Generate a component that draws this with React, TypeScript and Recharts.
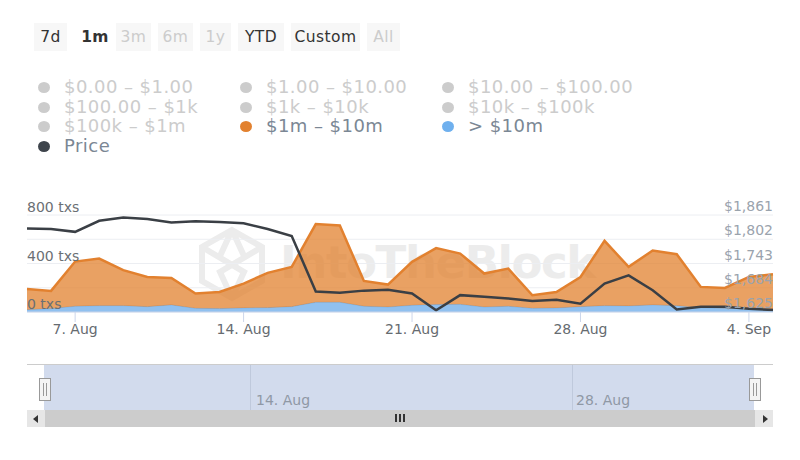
import { ComposedChart, Area, Line, XAxis, YAxis, CartesianGrid } from "recharts";

const FONT = "'DejaVu Sans', sans-serif";
const GRID = "#eceef2";
const AXIS = "#ccd6eb";
const ORANGE = "#E2812F";
const BLUE = "#7CB5EC";
const PRICE = "#3A3F45";

const dates = [
  "5. Aug", "6. Aug", "7. Aug", "8. Aug", "9. Aug", "10. Aug", "11. Aug", "12. Aug",
  "13. Aug", "14. Aug", "15. Aug", "16. Aug", "17. Aug", "18. Aug", "19. Aug", "20. Aug",
  "21. Aug", "22. Aug", "23. Aug", "24. Aug", "25. Aug", "26. Aug", "27. Aug", "28. Aug",
  "29. Aug", "30. Aug", "31. Aug", "1. Sep", "2. Sep", "3. Sep", "4. Sep", "5. Sep",
];
const over10m = [19, 28, 47, 52, 52, 44, 58, 30, 28, 33, 36, 44, 80, 80, 47, 41, 55, 61, 63, 41, 47, 30, 33, 44, 52, 50, 58, 52, 36, 30, 30, 25];
const oneTo10m = [171, 146, 369, 389, 293, 245, 223, 122, 137, 201, 287, 328, 645, 634, 209, 185, 359, 466, 419, 276, 311, 108, 132, 245, 535, 322, 449, 425, 171, 168, 259, 287];
const price = [1828, 1827, 1820, 1847, 1855, 1851, 1843, 1846, 1844, 1841, 1827, 1810, 1675, 1672, 1677, 1679, 1670, 1629, 1666, 1662, 1658, 1652, 1655, 1645, 1694, 1714, 1678, 1631, 1638, 1638, 1633, 1630];

const xTicks = ["7. Aug", "14. Aug", "21. Aug", "28. Aug", "4. Sep"];
const txTicks = [0, 200, 400, 600, 800];
const txLabelled = [0, 400, 800];
const priceTicks = [1625, 1684, 1743, 1802, 1861];

const ranges = [
  { label: "7d", left: 34, width: 33, state: "on" },
  { label: "1m", left: 75, width: 40, state: "selected" },
  { label: "3m", left: 116, width: 35, state: "off" },
  { label: "6m", left: 158, width: 35, state: "off" },
  { label: "1y", left: 200, width: 31, state: "off" },
  { label: "YTD", left: 238, width: 46, state: "on" },
  { label: "Custom", left: 291, width: 69, state: "on" },
  { label: "All", left: 367, width: 33, state: "off" },
];

const legendItems = [
  { label: "$0.00 – $1.00", col: 0, row: 0, dot: "#cccccc", active: false },
  { label: "$1.00 – $10.00", col: 1, row: 0, dot: "#cccccc", active: false },
  { label: "$10.00 – $100.00", col: 2, row: 0, dot: "#cccccc", active: false },
  { label: "$100.00 – $1k", col: 0, row: 1, dot: "#cccccc", active: false },
  { label: "$1k – $10k", col: 1, row: 1, dot: "#cccccc", active: false },
  { label: "$10k – $100k", col: 2, row: 1, dot: "#cccccc", active: false },
  { label: "$100k – $1m", col: 0, row: 2, dot: "#cccccc", active: false },
  { label: "$1m – $10m", col: 1, row: 2, dot: ORANGE, active: true },
  { label: "> $10m", col: 2, row: 2, dot: "#6FB0EE", active: true },
  { label: "Price", col: 0, row: 3, dot: "#3E444C", active: true },
];

const rows = dates.map((date, i) => ({
  date,
  over10m: over10m[i],
  oneTo10m: oneTo10m[i],
  price: price[i],
}));

function TxTick({ x, y, payload }: any) {
  if (!txLabelled.includes(payload.value)) return <g />;
  return (
    <text x={x} y={y - 3} textAnchor="start" fontSize={14} fontFamily={FONT} fill="#6b6f74">
      {payload.value} txs
    </text>
  );
}

function PriceTick({ x, y, payload }: any) {
  return (
    <text x={x} y={y - 4} textAnchor="end" fontSize={14} fontFamily={FONT} fill="#9aa3ad">
      ${payload.value.toLocaleString("en-US")}
    </text>
  );
}

function RangeButtons() {
  return (
    <>
      {ranges.map((r) => (
        <div
          key={r.label}
          style={{
            position: "absolute", left: r.left, top: 23, width: r.width, height: 28, lineHeight: "29px",
            textAlign: "center", fontSize: 15.5, letterSpacing: 0.4,
            background: r.state === "selected" ? "#fff" : "#f7f7f7",
            color: r.state === "off" ? "#cccccc" : "#333333",
            fontWeight: r.state === "selected" ? 700 : 400,
          }}
        >
          {r.label}
        </div>
      ))}
    </>
  );
}

function RangeLegend() {
  return (
    <>
      {legendItems.map((item) => (
        <div key={item.label}>
          <div
            style={{
              position: "absolute", left: 38 + item.col * 202, top: 82 + item.row * 19.5,
              width: 12, height: 11, borderRadius: "50%", background: item.dot,
            }}
          />
          <div
            style={{
              position: "absolute", left: 64 + item.col * 202, top: 76 + item.row * 19.5,
              fontSize: 18, lineHeight: "22px", whiteSpace: "nowrap", letterSpacing: 0.45,
              color: item.active ? "#7b8794" : "#cccccc",
            }}
          >
            {item.label}
          </div>
        </div>
      ))}
    </>
  );
}

function Watermark() {
  return (
    <>
      <svg style={{ position: "absolute", left: 198, top: 226 }} width={68} height={76} fill="none" stroke="#ececec" strokeWidth={6}>
        <path d="M34 4 L64 21 L64 55 L34 72 L4 55 L4 21 Z M4 21 L46 46 L34 72 M64 21 L22 46 L34 72 M34 4 L46 30 M34 4 L22 30" />
      </svg>
      <div
        style={{
          position: "absolute", left: 280, top: 235, fontSize: 45, lineHeight: "56px",
          fontWeight: 700, color: "#ececec", whiteSpace: "nowrap", letterSpacing: -1.4,
        }}
      >
        IntoTheBlock
      </div>
    </>
  );
}

function Handle({ left }: { left: number }) {
  return (
    <div
      style={{
        position: "absolute", left, top: 378, width: 10, height: 21, background: "#f4f4f4",
        border: "1px solid #999999",
      }}
    >
      <div style={{ position: "absolute", left: 3, top: 4, width: 1, height: 13, background: "#999999" }} />
      <div style={{ position: "absolute", left: 6, top: 4, width: 1, height: 13, background: "#999999" }} />
    </div>
  );
}

function Navigator() {
  const label = { position: "absolute", top: 391, fontSize: 14, lineHeight: "18px", color: "#8f98a5" } as const;
  return (
    <>
      <div style={{ position: "absolute", left: 27, top: 364, width: 746, height: 1, background: "#cccccc" }} />
      <div style={{ position: "absolute", left: 44, top: 365, width: 710, height: 45, background: "#D2DBED" }} />
      <div style={{ position: "absolute", left: 250, top: 365, width: 1, height: 45, background: "#BFC9DC" }} />
      <div style={{ position: "absolute", left: 572, top: 365, width: 1, height: 45, background: "#BFC9DC" }} />
      <div style={{ ...label, left: 256 }}>14. Aug</div>
      <div style={{ ...label, left: 576 }}>28. Aug</div>
      <Handle left={39} />
      <Handle left={749} />
      <div style={{ position: "absolute", left: 27, top: 410, width: 746, height: 17, background: "#cccccc" }} />
      <div style={{ position: "absolute", left: 27, top: 410, width: 18, height: 17, background: "#e6e6e6" }} />
      <div style={{ position: "absolute", left: 755, top: 410, width: 18, height: 17, background: "#e6e6e6" }} />
      <div style={{ position: "absolute", left: 33, top: 415, width: 0, height: 0, borderTop: "4px solid transparent", borderBottom: "4px solid transparent", borderRight: "5px solid #333" }} />
      <div style={{ position: "absolute", left: 763, top: 415, width: 0, height: 0, borderTop: "4px solid transparent", borderBottom: "4px solid transparent", borderLeft: "5px solid #333" }} />
      {[395, 399, 403].map((left) => (
        <div key={left} style={{ position: "absolute", left, top: 414, width: 1.5, height: 8, background: "#333" }} />
      ))}
    </>
  );
}

export default function App() {
  return (
    <div style={{ position: "absolute", left: 0, top: 0, width: 800, height: 460, background: "#fff", fontFamily: FONT, overflow: "hidden" }}>
      <RangeButtons />
      <RangeLegend />
      <Watermark />
      <div style={{ position: "absolute", left: 0, top: 0 }}>
        <ComposedChart width={800} height={340} data={rows} margin={{ top: 215, right: 26, bottom: 0, left: 26 }}>
          <CartesianGrid yAxisId="tx" horizontal vertical={false} stroke={GRID} />
          <XAxis
            dataKey="date"
            ticks={xTicks}
            interval={0}
            height={28}
            tickSize={10}
            tickMargin={2}
            stroke={AXIS}
            tick={{ fontSize: 14, fontFamily: FONT, fill: "#666b70" }}
          />
          <YAxis yAxisId="tx" orientation="left" width={1} domain={[0, 800]} ticks={txTicks} axisLine={false} tickLine={false} tickSize={0} tickMargin={0} tick={(p: any) => <TxTick {...p} />} />
          <YAxis yAxisId="price" orientation="right" width={1} domain={[1625, 1861]} ticks={priceTicks} axisLine={false} tickLine={false} tickSize={0} tickMargin={0} tick={(p: any) => <PriceTick {...p} />} />
          <Area yAxisId="tx" type="linear" dataKey="over10m" stackId="tx" stroke={BLUE} strokeWidth={1} fill={BLUE} fillOpacity={0.85} dot={false} isAnimationActive={false} />
          <Area yAxisId="tx" type="linear" dataKey="oneTo10m" stackId="tx" stroke={ORANGE} strokeWidth={2.5} fill={ORANGE} fillOpacity={0.75} dot={false} isAnimationActive={false} />
          <Line yAxisId="price" type="linear" dataKey="price" stroke={PRICE} strokeWidth={2.5} dot={false} isAnimationActive={false} />
        </ComposedChart>
      </div>
      <Navigator />
    </div>
  );
}
